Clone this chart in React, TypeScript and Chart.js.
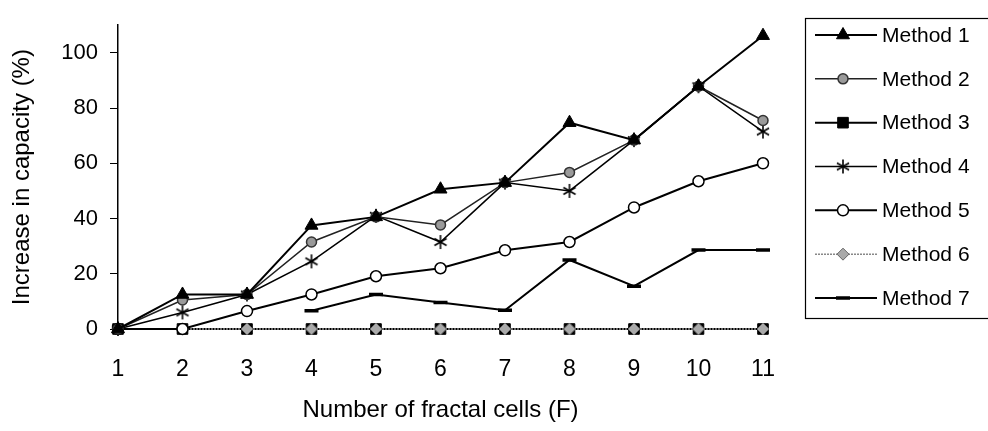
import React, { useEffect, useRef } from 'react';
import { Chart, registerables } from 'chart.js';
import { drawPoint } from 'chart.js/helpers';

Chart.register(...registerables);

const categories = ['1', '2', '3', '4', '5', '6', '7', '8', '9', '10', '11'];
const method1 = [0, 12.5, 12.5, 37.5, 40.6, 50.6, 53, 74.7, 68.4, 87.9, 106.2];
const method2 = [0, 10.5, 12.5, 31.5, 40.6, 37.7, 53, 56.7, 68.4, 87.9, 75.5];
const method3 = [0, 0, 0, 0, 0, 0, 0, 0, 0, 0, 0];
const method4 = [0, 6, 12.5, 24.5, 41, 31.5, 53, 50, 68.4, 87.9, 71.5];
const method5 = [0, 0, 6.5, 12.5, 19.1, 22, 28.5, 31.5, 44, 53.5, 60];
const method6 = [0, 0, 0, 0, 0, 0, 0, 0, 0, 0, 0];
const method7 = [null, null, null, 6.6, 12.5, 9.6, 6.8, 25, 15.5, 28.6, 28.6];
const yTicks = [0, 20, 40, 60, 80, 100];
const seriesNames = ['Method 1', 'Method 2', 'Method 3', 'Method 4', 'Method 5', 'Method 6', 'Method 7'];

const FONT = "'Liberation Sans', Arial, Helvetica, sans-serif";

function makeAsterisk(): HTMLCanvasElement {
  const c = document.createElement('canvas');
  c.width = 16;
  c.height = 16;
  const g = c.getContext('2d')!;
  g.strokeStyle = '#000';
  g.lineWidth = 1.6;
  const cx = 8, cy = 8, r = 7;
  for (let k = 0; k < 3; k++) {
    const a = Math.PI / 2 + (k * Math.PI) / 3;
    g.beginPath();
    g.moveTo(cx + r * Math.cos(a), cy + r * Math.sin(a));
    g.lineTo(cx - r * Math.cos(a), cy - r * Math.sin(a));
    g.stroke();
  }
  return c;
}

const legendPlugin = {
  id: 'boxLegend',
  afterDraw(chart: any) {
    const ctx = chart.ctx as CanvasRenderingContext2D;
    const left = 805, top = 18, bottom = 318, right = 1000;
    ctx.save();
    ctx.strokeStyle = '#000';
    ctx.lineWidth = 1.2;
    ctx.strokeRect(left + 0.5, top + 0.5, right - left, bottom - top);
    const ds = chart.data.datasets;
    const step = (298 - 35) / (ds.length - 1);
    ds.forEach((d: any, i: number) => {
      const y = 35 + i * step;
      ctx.save();
      ctx.strokeStyle = d.borderColor;
      ctx.lineWidth = d.borderWidth;
      ctx.setLineDash(d.borderDash || []);
      ctx.beginPath();
      ctx.moveTo(815, y);
      ctx.lineTo(877, y);
      ctx.stroke();
      ctx.setLineDash([]);
      ctx.fillStyle = d.pointBackgroundColor;
      ctx.strokeStyle = d.pointBorderColor;
      ctx.lineWidth = d.pointBorderWidth;
      drawPoint(ctx, {
        pointStyle: d.pointStyle,
        rotation: 0,
        radius: d.pointRadius,
        borderWidth: d.pointBorderWidth,
      } as any, 843, y);
      ctx.restore();
      ctx.fillStyle = '#000';
      ctx.font = `21px ${FONT}`;
      ctx.textBaseline = 'middle';
      ctx.textAlign = 'left';
      ctx.fillText(d.label, 882, y + 1);
    });
    ctx.restore();
  },
};

export default function App() {
  const ref = useRef<HTMLCanvasElement | null>(null);

  useEffect(() => {
    document.body.style.margin = '0';
    const asterisk = makeAsterisk();
    const base = (label: string, data: any[], extra: any) => ({
      label,
      data,
      borderColor: '#000',
      borderWidth: 2,
      pointBackgroundColor: '#000',
      pointBorderColor: '#000',
      pointBorderWidth: 1,
      pointRadius: 5,
      pointHoverRadius: 5,
      tension: 0,
      fill: false,
      spanGaps: false,
      clip: 12,
      ...extra,
    });
    const chart = new Chart(ref.current!, {
      type: 'line',
      data: {
        labels: categories,
        datasets: [
          base(seriesNames[0], method1, { pointStyle: 'triangle', pointRadius: 7.5, order: 1 }),
          base(seriesNames[1], method2, {
            pointStyle: 'circle', pointRadius: 5, borderWidth: 1.5, borderColor: '#222',
            pointBackgroundColor: '#9a9a9a', pointBorderColor: '#333', pointBorderWidth: 1.5, order: 2,
          }),
          base(seriesNames[2], method3, { pointStyle: 'rect', pointRadius: 7.5, order: 7 }),
          base(seriesNames[3], method4, { pointStyle: asterisk, pointRadius: 8, borderWidth: 1.5, order: 3 }),
          base(seriesNames[4], method5, {
            pointStyle: 'circle', pointRadius: 5.5, pointBackgroundColor: '#fff', pointBorderWidth: 1.5, order: 4,
          }),
          base(seriesNames[5], method6, {
            pointStyle: 'rectRot', pointRadius: 6, borderWidth: 1.5, borderColor: '#888', borderDash: [2, 1],
            pointBackgroundColor: '#aaa', pointBorderColor: '#666', pointBorderWidth: 1, order: 6,
          }),
          base(seriesNames[6], method7, {
            pointStyle: 'line', pointRadius: 7, pointBorderWidth: 3.5, borderWidth: 2, order: 5,
          }),
        ],
      },
      options: {
        animation: false,
        responsive: false,
        maintainAspectRatio: false,
        layout: { padding: { top: 8, right: 225, left: 0, bottom: 0 } },
        plugins: {
          legend: { display: false },
          tooltip: { enabled: false },
          title: { display: false },
        },
        scales: {
          x: {
            type: 'category',
            offset: false,
            grid: { display: true, drawOnChartArea: false, drawTicks: true, tickLength: 6, color: '#000' },
            border: { display: true, color: '#000', width: 1 },
            ticks: { color: '#000', font: { size: 23, family: FONT }, padding: 21, maxRotation: 0, autoSkip: false },
            title: {
              display: true,
              text: 'Number of fractal cells (F)',
              color: '#000',
              font: { size: 24, family: FONT },
              padding: { top: 0, bottom: 6 },
            },
            afterFit(scale: any) { scale.height = 102; },
          },
          y: {
            type: 'linear',
            min: 0,
            max: 110,
            afterBuildTicks(scale: any) { scale.ticks = yTicks.map((v) => ({ value: v })); },
            grid: { display: true, drawOnChartArea: false, drawTicks: true, tickLength: 8, color: '#000' },
            border: { display: true, color: '#000', width: 1.5 },
            ticks: { color: '#000', font: { size: 22, family: FONT }, padding: 12 },
            title: {
              display: true,
              text: 'Increase in capacity (%)',
              color: '#000',
              font: { size: 24, family: FONT },
              padding: { top: 8, bottom: 0 },
            },
            afterFit(scale: any) { scale.width = 118; },
          },
        },
      },
      plugins: [legendPlugin],
    });
    return () => chart.destroy();
  }, []);

  return (
    <div style={{ position: 'fixed', left: 0, top: 0, width: 988, height: 431 }}>
      <canvas ref={ref} width={988} height={431} style={{ width: 988, height: 431, display: 'block' }} />
    </div>
  );
}
